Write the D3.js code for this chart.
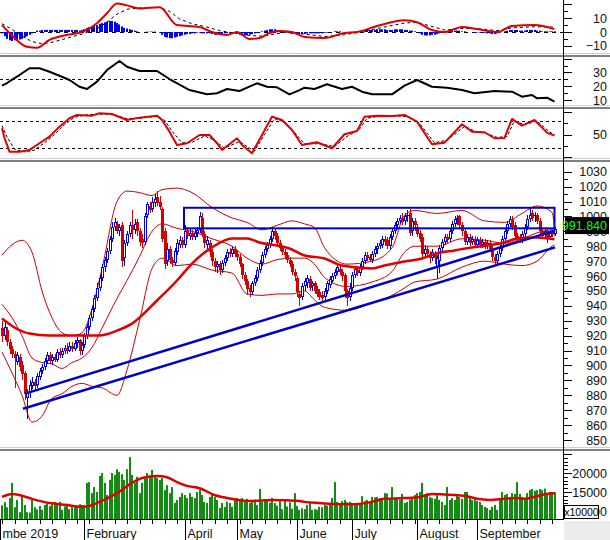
<!DOCTYPE html>
<html><head><meta charset="utf-8">
<script src="https://cdn.jsdelivr.net/npm/d3@7"></script>
<style>body{margin:0;background:#fff;}svg{display:block;}text{font-family:"Liberation Sans",Arial,sans-serif;}</style>
</head><body><svg id="c" width="610" height="540"></svg>
<script>
// ---------- DATA ----------
const open=[925,920,924,916,911,908,902,906,900,895,
878,882,886,889,887,892,896,899,903,907,
903,906,904,909,907,910,912,910,913,911,
915,917,910,914,920,926,932,938,945,952,
959,966,971,977,985,993,995,990,994,972,
982,988,994,991,996,990,985,983,1001,1007,
1005,1009,1013,1010,1005,990,970,978,971,969,
976,981,984,981,990,987,989,986,989,991,
999,988,981,982,976,970,966,968,964,969,
972,976,975,978,975,973,968,961,957,952,
949,955,959,964,969,974,978,981,985,990,
987,982,979,976,974,971,968,963,959,948,
946,953,955,958,953,955,951,949,947,946,
950,954,957,960,963,965,963,961,950,946,
952,961,964,962,966,970,974,973,971,975,
978,980,981,985,984,980,986,990,994,997,
999,997,1000,1002,990,997,993,989,986,975,
978,975,972,975,966,970,979,983,986,985,
990,995,998,1000,994,990,983,986,983,985,
981,984,981,983,980,982,978,973,970,975,
979,985,990,995,998,994,987,986,984,988,
993,998,1002,1000,1001,997,990,988,990,986,
989,988];
const high=[930,929,926,918,913,910,909,908,903,896,
884,890,892,891,895,898,901,905,909,909,
908,908,911,912,912,914,915,916,916,917,
919,918,916,922,928,934,940,947,955,961,
968,973,979,987,996,999,997,995,996,984,
990,996,1004,998,998,992,988,1002,1010,1010,
1013,1015,1017,1014,1006,992,982,980,973,979,
985,987,986,994,993,992,991,992,993,1003,
1002,990,987,984,978,972,970,970,971,974,
978,979,980,980,977,975,969,963,958,954,
957,961,966,971,976,980,983,987,993,992,
989,984,981,978,976,973,970,965,960,950,
955,959,961,960,957,957,953,951,950,952,
957,960,962,965,968,967,965,962,951,955,
963,967,966,968,972,976,976,975,977,980,
982,984,987,987,986,988,992,996,999,1001,
1002,1002,1004,1005,999,999,995,991,988,981,
980,977,978,977,974,981,985,988,988,992,
997,1000,1001,1001,996,992,988,988,987,987,
986,986,985,985,984,984,980,975,977,981,
987,992,997,1000,1000,996,989,988,990,995,
1001,1005,1004,1003,1002,999,992,992,992,991,
992,993];
const low=[916,917,913,908,905,885,900,896,890,877,
864,878,884,883,885,890,894,897,901,901,
900,902,902,905,905,908,908,909,909,910,
912,907,907,912,918,924,930,936,943,950,
957,963,969,975,983,990,988,987,966,967,
980,986,985,988,987,980,979,981,999,1002,
1003,1006,1007,1004,983,965,967,968,966,967,
974,979,979,979,985,984,984,984,986,989,
986,979,978,973,967,963,962,961,962,967,
970,973,973,973,970,966,958,954,947,946,
947,953,957,962,967,972,976,979,983,984,
980,977,974,972,969,966,961,957,946,940,
944,950,952,950,950,948,946,944,943,943,
948,952,955,958,961,961,957,945,940,943,
950,959,960,960,964,968,970,970,969,973,
975,978,979,980,978,978,984,988,992,995,
994,994,996,987,987,990,986,983,973,973,
972,969,970,968,958,962,977,981,982,983,
988,993,994,992,987,981,981,980,981,979,
979,979,979,978,978,976,970,967,968,973,
977,983,988,993,991,985,983,982,982,986,
991,996,997,996,995,988,985,985,982,984,
986,987];
const close=[920,926,916,911,908,905,907,899,894,881,
882,887,889,886,893,896,899,903,907,903,
906,904,909,907,910,912,910,913,911,915,
917,910,914,920,926,932,938,945,952,959,
966,971,977,985,993,996,990,993,970,982,
988,994,991,995,990,983,982,1000,1008,1004,
1010,1012,1009,1006,985,968,978,971,969,977,
982,984,981,990,987,989,986,989,991,1000,
988,982,984,976,970,966,968,964,969,972,
976,975,978,975,973,968,961,957,951,949,
955,959,964,969,974,978,981,985,990,987,
982,979,976,974,971,968,963,960,949,945,
953,957,959,952,955,950,948,946,945,950,
955,958,960,963,966,963,960,950,945,952,
961,965,962,966,970,974,972,971,975,978,
980,982,985,983,980,986,990,994,997,999,
996,1000,1001,989,997,994,988,985,975,978,
975,972,976,972,972,979,983,986,984,990,
995,998,999,994,990,983,986,982,985,981,
984,981,983,980,982,978,973,970,975,979,
985,990,995,998,993,987,985,984,988,993,
998,1001,999,1001,997,990,987,990,985,989,
988,991.84];
const volume=[11500,12300,11000,13400,17400,11000,12900,9700,13700,11600,
9700,9600,12900,11000,10400,11300,10300,11600,12000,11300,
11800,12400,11700,12400,10300,11200,11900,10500,11000,11600,
11500,11800,11600,11600,17400,17600,14700,16300,15000,19200,
20000,17400,14200,18200,20000,19500,21000,20300,19700,18200,
21000,24200,19500,17400,19000,14700,17400,18700,20000,19000,
20800,19500,18700,18200,18700,15500,16800,14700,16300,12100,
12900,13700,14700,14200,13400,14700,13700,13400,15000,15500,
14200,12400,12100,13700,14700,13700,12900,10800,12100,11100,
12400,12100,11100,12900,13400,12600,13400,12400,13200,12100,
12900,13000,11600,15800,12400,13100,12700,12200,13400,12100,
11400,12600,10500,12900,11200,12300,10600,14700,11300,10300,
10700,10500,11600,12100,10300,10500,10300,11100,11000,11600,
11400,11800,13400,17600,12400,12100,12600,12900,12300,12400,
12100,11600,11600,12000,13900,12600,12900,12400,13700,13600,
13700,13400,13000,14700,14600,13200,16300,13400,13600,13000,
14500,12100,12400,13000,13400,14200,14700,15000,17400,14200,
14700,13700,13400,13200,14200,12900,12400,11600,16300,12900,
13400,12900,14200,13700,13200,15000,15000,13400,12900,13400,
12600,12400,11600,11100,10800,10300,11100,11600,10300,13200,
15000,14200,14500,13700,14700,14500,17600,14500,13700,13400,
14700,15500,15800,15300,15500,15800,15500,15900,14700,15000,
15000,15000];
const macdHist=[-1,-3,-5,-6,-6.5,-6,-6,-5.5,-5,-4,
-3,-2,-1,0,1,1,1.5,1.5,1.5,1.5,
1.5,1.5,1.5,1.5,1.5,1.5,1.5,1.5,1.5,1.5,
1.5,1,1.5,2,3,3.5,4,4.5,5,6,
6.5,7,7.5,8,8,7.5,6.5,5.5,4,3,
2.5,2,1.5,1,0.5,0,0,0,0.3,0.3,
0.3,0.3,0,-0.5,-2,-3.5,-4,-4.5,-4.5,-4,
-3.5,-3,-2.5,-2,-1.5,-1.5,-1,-1,-0.5,-0.5,
-1,-1,-1,-1,-1.5,-2,-2,-2,-1.5,-1,
-0.5,-0.5,-1,-1,-1.5,-2,-2.5,-2.5,-2.5,-2,
-1.5,-1,-0.5,0,0.5,1,1.5,2,2,2,
1.5,1,0.5,0,-0.5,-1,-1.5,-1.5,-2,-2,
-1.5,-1.5,-1,-1,-1,-1,-1,-1,-1,-0.5,
-0.5,0,0,0.5,0.5,0.5,0,-0.5,-1,-1,
-0.5,0,0.5,1,1,1.5,1.5,1.5,1.5,1.5,
2,2,2,2,1.5,1.5,1.5,2,2,2,
2,1.5,1.5,1,1,0.5,0,-1,-2,-2.5,
-2.5,-2.5,-2,-2,-1.5,-1,0,0.5,0.5,1,
1,1,1,1,0.5,0.5,0,0,0,-0.5,
-0.5,-0.5,-0.5,-0.5,-1,-1,-1.5,-1.5,-1,-0.5,
0,0.5,1,1.5,1.5,1.5,1.5,1,1,1,
1.5,1.5,1.5,1.5,1,1,0.5,0.5,0.5,0.5,
0.5,0.5];
const macdIdx=[0,3,10,14,19,26,32,38,42,46,50,55,63,70,79,84,90,94,99,103,107,111,116,121,129,137,142,150,161,166,172,177,184,190,198,204,213,221];
const macdVal=[5,-0.7,-10.7,-11.4,-5.7,-2.1,0,6.4,13.6,20.7,19.3,17.1,17.9,5,3.6,0,-2.1,0,-5,-4.3,-0.7,0.7,0,-3.6,-4.3,-0.7,0,4.3,8.6,7.1,1.4,0,3.6,2.1,0,4.3,5,2.1];
const signalIdx=[0,4,8,12,16,20,26,32,38,42,46,50,55,63,67,71,76,82,87,92,99,104,109,114,121,129,137,142,150,161,166,172,177,184,190,198,204,213,221];
const signalVal=[6,2,-3,-7,-8.5,-7.5,-4.5,-1.5,2.5,7,13,16.5,17.5,17.8,15,9.5,6,3.6,1,-0.5,-2.5,-3,-1.5,0,-1.5,-3.3,-2,-0.5,2.5,6.5,7,4,1.5,2.5,2.5,1,3,3.8,3.5];
const adxIdx=[0,2,5,7,11,15,19,23,27,31,34,38,42,47,50,55,62,67,75,82,86,90,95,102,106,110,115,119,121,125,130,136,140,144,148,156,161,166,172,178,184,189,197,204,208,212,214,218,221];
const adxVal=[20.4,22.3,25.9,28.1,33,33,30.5,27.6,24.5,19.6,18,23.3,31.7,38.3,34.1,31,31,25.2,17.2,14.1,14.9,18,16.5,22.1,19.6,19.2,14.1,17.2,18.9,18,21.4,18,19.6,16,14.1,14.1,20.4,24.5,19.6,18.9,17.2,14.9,16.5,16,12.4,13.6,11.2,11.7,8.8];
const kIdx=[0,1,3,7,11,15,19,23,27,30,36,39,44,50,55,62,64,67,70,74,79,83,86,88,94,96,100,104,108,112,116,120,126,132,137,142,145,150,156,161,166,172,177,184,188,193,197,201,204,208,213,218,221];
const kVal=[64,42.7,12.6,12.6,16.4,31.1,45.6,67.6,86,93.3,91.8,97,95.5,82.3,87.4,91.8,82.3,56.6,27.4,31.1,49.3,49.3,31.1,16.4,42.1,27.4,9.1,49.3,89.6,82.3,60.3,27.4,33.3,20.1,50.9,58.1,89.6,91.8,91.1,93.3,78.6,28.9,32.4,72.9,56.6,55.3,42.1,42.7,84.5,69.8,82.3,54.4,47.8];
const dIdx=[0,2,5,9,13,17,21,25,29,33,38,44,50,55,62,65,68,72,76,81,85,89,95,98,101,105,109,113,117,121,127,133,138,143,146,151,157,162,167,173,178,185,189,194,198,202,205,209,214,219,221];
const dVal=[70,45,18,12,16,32,50,72,88,93,95,95,85,86,90,82,58,32,33,47,38,20,35,24,14,50,85,78,55,30,30,24,46,62,86,91,91,90,75,32,38,68,58,52,44,46,80,72,80,56,50];
const maIdx=[0,5,11,19,33,39,46,52,62,70,76,84,92,98,103,110,115,121,129,136,148,153,161,168,174,181,188,194,201,206,214,221];
const maVal=[931.5,925.5,921.4,920.1,920.1,920.1,923.4,928.1,943.6,957,968.4,979.2,985.2,985.2,982.5,980.5,978.5,973.8,971.8,967.1,965.1,967.1,969.8,971.8,975.2,977.2,979.2,980.5,982.5,985.2,985.9,984.6];
const bbIdx=[0,4,8,12,16,20,24,28,32,36,40,46,50,55,60,64,70,76,84,92,98,104,110,116,121,125,129,138,148,156,161,165,174,184,193,201,208,214,220,221];
const bbUpper=[974,981,984,976,950,932,922,920,922,938,965,1010,1017,1016,1014,1018,1019,1016,1006,999,996,991,994,997,995,992.6,979,968,970,979,1000.7,1004,1002,1004,997,996,1002,1007,1002.7,993];
const bbMid=[941,932,920,905,902,901,898,902,905,912,925,945,957,973,990,995,992,990,985,980,972,968,971,972,972,968,959,953,956,963,976,980,980,985,984,982,985,989,991,987];
const bbLower=[909,895,880,862,866,878,881,886,888,886,885,880,897,930,965,972,967,968,964,962,948,947,948,948,950,944,939,937,942,947,952,956,958,966,970,968,967,970,980,981];
const volMaIdx=[0,4,8,12,19,26,31,33,39,46,52,56,62,66,70,74,79,85,92,100,108,119,121,127,135,141,148,153,161,167,172,181,186,190,195,201,206,209,214,220,221];
const volMaVal=[13700,14500,14000,13200,12100,11600,11100,11100,12400,14700,17400,18700,19200,18900,17600,16600,16000,14200,13200,12600,12900,12600,12400,12100,11800,11800,12400,13200,13400,13700,14500,14200,13900,13200,12900,13200,13400,13200,13900,14700,14600];
const trendUpper=[[9.2,881.1],[221.2,990.5]];
const trendLower=[[8.4,871],[221.2,979.2]];
const boxIdx=[72.8,221], boxPrice=[992,1005.8];
const monthIdx=[-0.8,33,73,94,118,140,166,190];
const monthLabels=["mbe 2019","February","April","May","June","July","August","September"];
const priceTicks=[850,860,870,880,890,900,910,920,930,940,950,960,970,980,990,1000,1010,1020,1030];
const macdTicks=[10,0,-10];
const adxTicks=[30,20,10];
const stochTicks=[50];
const volTicks=[20000,15000,10000];
const stochLevels=[80,20];
const adxLevel=25;
const lastPrice=991.84;

// ---------- LAYOUT ----------
const W=610,H=540,AX=563;
const N=close.length;
const BLUE="#0000e6",RED="#d40000",LINE_RED="#e00000",TREND="#0000cc";
const panels={macd:[0,53],adx:[58,105],stoch:[110,158],main:[162,447],vol:[452,519]};
const xs=d3.scaleLinear().domain([0,N-1]).range([2,554.5]);
const yP=d3.scaleLinear().domain([850,1030]).range([440,171.7]);
const yV=d3.scaleLinear().domain([10000,20000]).range([511,473]);
const yM=d3.scaleLinear().domain([-10,10]).range([45.8,18.2]);
const yA=d3.scaleLinear().domain([10,30]).range([100,72.4]);
const yS=d3.scaleLinear().domain([20,80]).range([148.3,121]);

const svg=d3.select('#c');
svg.append('rect').attr('width',W).attr('height',H).attr('fill','#fff');
const defs=svg.append('defs');
Object.entries(panels).forEach(([k,[t,b]])=>{
  defs.append('clipPath').attr('id','clip-'+k).append('rect').attr('x',0).attr('y',t).attr('width',AX).attr('height',b-t);
});
const zip=(a,b)=>a.map((v,i)=>[v,b[i]]);
function drawLine(g,pts,ys,opt){
  const ln=d3.line().x(d=>xs(d[0])).y(d=>ys(d[1])).curve(opt.curve||d3.curveLinear);
  g.append('path').attr('d',ln(pts)).attr('fill','none').attr('stroke',opt.color)
   .attr('stroke-width',opt.width||1).attr('stroke-dasharray',opt.dash||null).attr('stroke-linejoin','round');
}
function hline(g,y,opt){
  g.append('line').attr('x1',0).attr('x2',AX).attr('y1',y).attr('y2',y).attr('stroke',opt.color).attr('stroke-width',1).attr('stroke-dasharray',opt.dash||null);
}

// ---------- MACD ----------
const gM=svg.append('g').attr('clip-path','url(#clip-macd)');
hline(gM,Math.round(yM(0))+0.5,{color:'#000',dash:'4,4'});
gM.selectAll('rect.h').data(macdHist).enter().append('rect')
  .attr('x',(d,i)=>Math.round(xs(i))-1).attr('width',2)
  .attr('y',d=>Math.min(yM(d),yM(0))).attr('height',d=>Math.abs(yM(d)-yM(0)))
  .attr('fill','#0000ff');
drawLine(gM,zip(signalIdx,signalVal),yM,{color:'#000',width:1,dash:'3,3'});
drawLine(gM,zip(macdIdx,macdVal),yM,{color:LINE_RED,width:2,curve:d3.curveMonotoneX});

// ---------- ADX ----------
const gA=svg.append('g').attr('clip-path','url(#clip-adx)');
hline(gA,Math.round(yA(adxLevel))+0.5,{color:'#000080',dash:'3,3'});
drawLine(gA,zip(adxIdx,adxVal),yA,{color:'#000',width:2});

// ---------- STOCH ----------
const gS=svg.append('g').attr('clip-path','url(#clip-stoch)');
stochLevels.forEach(l=>hline(gS,Math.round(yS(l))+0.5,{color:'#000',dash:'3,3'}));
drawLine(gS,zip(dIdx,dVal),yS,{color:'#000',width:1,dash:'3,2'});
drawLine(gS,zip(kIdx,kVal),yS,{color:LINE_RED,width:2});

// ---------- MAIN ----------
const gP=svg.append('g').attr('clip-path','url(#clip-main)');
[bbUpper,bbMid,bbLower].forEach(arr=>drawLine(gP,zip(bbIdx,arr),yP,{color:'#cc0000',width:1,curve:d3.curveMonotoneX}));
const candles=d3.range(N).map(i=>({i,o:open[i],h:high[i],l:low[i],c:close[i]}));
const cg=gP.selectAll('g.c').data(candles).enter().append('g');
cg.append('rect').attr('x',d=>Math.round(xs(d.i))).attr('width',1)
  .attr('y',d=>Math.round(yP(d.h))).attr('height',d=>Math.max(1,Math.round(yP(d.l))-Math.round(yP(d.h))))
  .attr('fill',d=>d.c>=d.o?BLUE:RED);
cg.each(function(d){
  const g=d3.select(this);
  const cx=Math.round(xs(d.i));
  const yo=Math.round(yP(d.o)),yc=Math.round(yP(d.c));
  const top=Math.min(yo,yc),h=Math.max(1,Math.abs(yo-yc));
  const up=d.c>=d.o;
  g.append('rect').attr('x',cx-1).attr('y',top).attr('width',3).attr('height',h).attr('fill',up?BLUE:RED);
  if(up&&h>2) g.append('rect').attr('x',cx).attr('y',top+1).attr('width',1).attr('height',h-2).attr('fill','#fff');
});
drawLine(gP,zip(maIdx,maVal),yP,{color:LINE_RED,width:2.5,curve:d3.curveMonotoneX});
[trendUpper,trendLower].forEach(t=>drawLine(gP,t,yP,{color:TREND,width:2.5}));
gP.append('rect').attr('x',xs(boxIdx[0])).attr('y',yP(boxPrice[1]))
  .attr('width',xs(boxIdx[1])-xs(boxIdx[0])).attr('height',yP(boxPrice[0])-yP(boxPrice[1]))
  .attr('fill','none').attr('stroke',TREND).attr('stroke-width',2);

// ---------- VOLUME ----------
const gV=svg.append('g').attr('clip-path','url(#clip-vol)');
gV.selectAll('rect').data(volume).enter().append('rect')
  .attr('x',(d,i)=>Math.round(xs(i))-1).attr('width',2)
  .attr('y',d=>yV(d)).attr('height',d=>520-yV(d)).attr('fill','#128c12');
drawLine(gV,zip(volMaIdx,volMaVal),yV,{color:LINE_RED,width:2.5,curve:d3.curveMonotoneX});

// ---------- SEPARATORS ----------
[53,105,158,447].forEach(s=>{
  svg.append('rect').attr('x',0).attr('y',s).attr('width',W).attr('height',1).attr('fill','#d0d0d0');
  svg.append('rect').attr('x',0).attr('y',s+2).attr('width',W).attr('height',2).attr('fill','#808080');
});

// ---------- RIGHT AXES ----------
const ax=svg.append('g');
ax.append('line').attr('x1',AX+0.5).attr('x2',AX+0.5).attr('y1',0).attr('y2',520).attr('stroke','#000');
function axisTicks(scale,majors,minors,labels,range){
  majors.forEach(v=>{const y=Math.round(scale(v))+0.5; if(y<range[0]||y>range[1])return;
    ax.append('line').attr('x1',AX).attr('x2',AX+9).attr('y1',y).attr('y2',y).attr('stroke','#000');});
  minors.forEach(v=>{const y=Math.round(scale(v))+0.5; if(y<range[0]||y>range[1])return;
    ax.append('line').attr('x1',AX).attr('x2',AX+5).attr('y1',y).attr('y2',y).attr('stroke','#000');});
  labels.forEach(v=>{ax.append('text').attr('x',607).attr('y',scale(v)).attr('dy','0.36em')
    .attr('text-anchor','end').attr('font-size','12.5px').attr('fill','#111').text(d3.format('d')(v));});
}
axisTicks(yM,[-10,0,10,20],[-15,-5,5,15],macdTicks,[0,53]);
axisTicks(yA,[10,20,30,40],[5,15,25,35],adxTicks,[58,105]);
axisTicks(yS,[0,50,100],[25,75],stochTicks,[110,158]);
axisTicks(yP,priceTicks,d3.range(855,1035,10),priceTicks,[162,447]);
axisTicks(yV,[10000,15000,20000,25000],d3.range(8000,26000,1000).filter(v=>v%5000),volTicks,[452,519]);

// last price label (covers lower half of the "1000" label, as in the source)
const yl=yP(lastPrice);
svg.append('rect').attr('x',565).attr('y',yl-11.5).attr('width',44).attr('height',17).attr('fill','#000');
svg.append('text').attr('x',607).attr('y',yl-3).attr('dy','0.36em').attr('text-anchor','end')
  .attr('font-size','12.5px').attr('fill','#00ff00').text(d3.format('.3f')(lastPrice));

// x10000 box
svg.append('rect').attr('x',564.5).attr('y',505.5).attr('width',34).attr('height',13).attr('fill','#fff').attr('stroke','#000');
svg.append('text').attr('x',581.5).attr('y',512).attr('dy','0.36em').attr('text-anchor','middle')
  .attr('font-size','10.5px').attr('fill','#000').text('x10000');

// ---------- X AXIS ----------
svg.append('rect').attr('x',AX+1).attr('y',521).attr('width',W-AX-1).attr('height',19).attr('fill','#ececec');
svg.append('line').attr('x1',0).attr('x2',AX+1).attr('y1',519.5).attr('y2',519.5).attr('stroke','#000');
const xa=svg.append('g');
d3.range(0,N,5).forEach(i=>{const x=Math.round(xs(i))+0.5;
  xa.append('line').attr('x1',x).attr('x2',x).attr('y1',520).attr('y2',524).attr('stroke','#000');});
monthIdx.forEach((m,k)=>{const x=Math.round(xs(m))+0.5;
  xa.append('line').attr('x1',x).attr('x2',x).attr('y1',520).attr('y2',540).attr('stroke','#000');
  xa.append('text').attr('x',x+2).attr('y',533).attr('dy','0.36em').attr('font-size','12.5px').attr('fill','#111').text(monthLabels[k]);
});
</script></body></html>
